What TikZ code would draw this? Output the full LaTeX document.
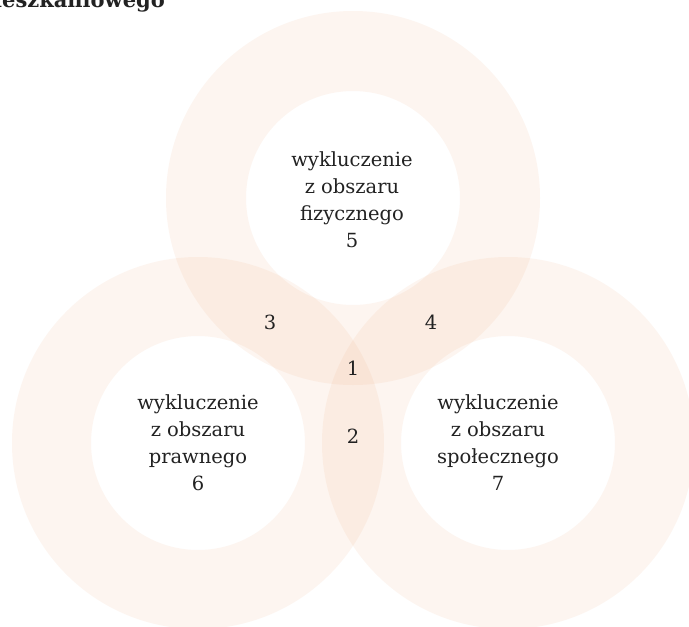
\documentclass[tikz,border=0pt]{standalone}
\usepackage{fontspec}
\setmainfont{DejaVu Serif}
\definecolor{peach}{RGB}{240,160,110}
\definecolor{ink}{RGB}{34,34,34}
\begin{document}
\begin{tikzpicture}[x=1pt,y=-1pt,
  ring/.style={fill=peach,fill opacity=0.1,even odd rule},
  lbl/.style={font=\fontsize{19.5}{27}\selectfont,align=center,text=ink,inner sep=0pt},
  num/.style={font=\fontsize{19.5}{22}\selectfont,text=ink,inner sep=0pt},
  title/.style={font=\bfseries\fontsize{21}{24}\selectfont,text=ink,inner sep=0pt}]
\useasboundingbox (0,0) rectangle (689,627);
\fill[white] (0,0) rectangle (689,627);
% rings
\fill[ring] (353,198) circle[radius=187pt] (353,198) circle[radius=107pt];
\fill[ring] (198,443) circle[radius=186pt] (198,443) circle[radius=107pt];
\fill[ring] (508,443) circle[radius=186pt] (508,443) circle[radius=107pt];
% named anchors for the three rings
\coordinate (ctop) at (353,198);
\coordinate (cleft) at (198,443);
\coordinate (cright) at (508,443);
% title (cut off at the top)
\node[title,anchor=base east] (ttl) at (165,7) {mieszkaniowego};
% labels
\node[lbl] (ltop) at (352,200) {wykluczenie\\z obszaru\\fizycznego\\5};
\node[lbl] (lleft) at (198,443) {wykluczenie\\z obszaru\\prawnego\\6};
\node[lbl] (lright) at (498,443) {wykluczenie\\z obszaru\\społecznego\\7};
\node[num] (n1) at (353,368) {1};
\node[num] (n2) at (353,436) {2};
\node[num] (n3) at (270,322) {3};
\node[num] (n4) at (431,322) {4};
\end{tikzpicture}
\end{document}
